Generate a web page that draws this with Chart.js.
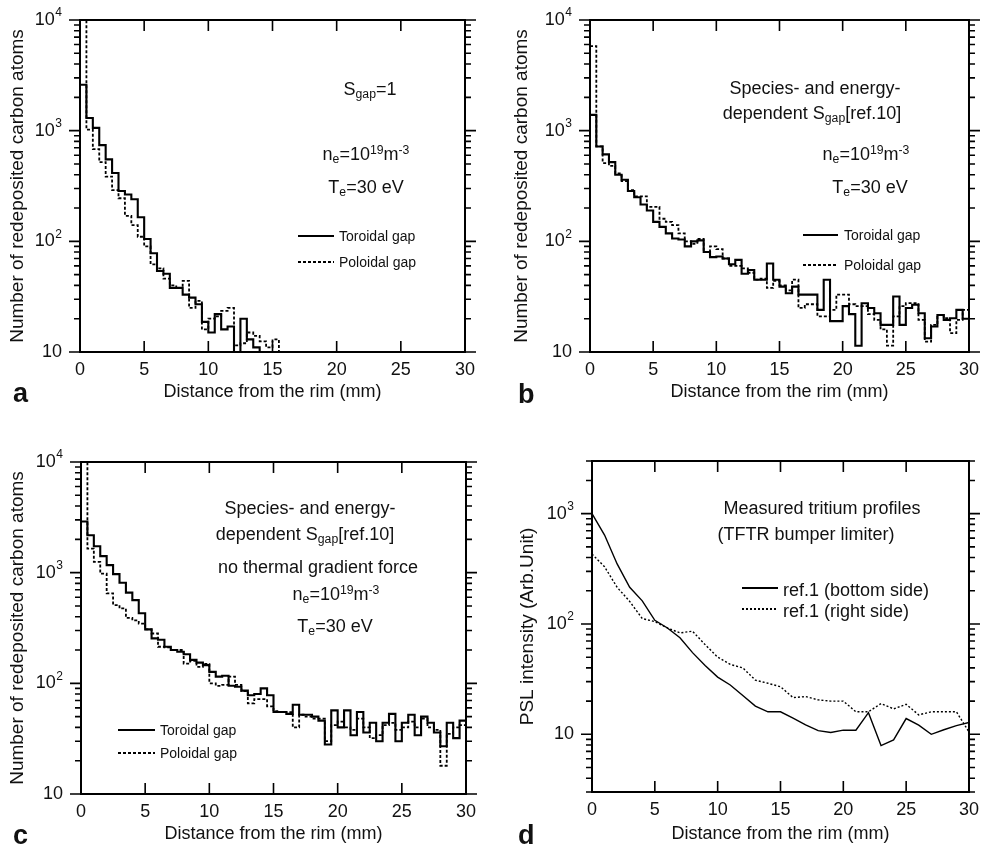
<!DOCTYPE html>
<html>
<head>
<meta charset="utf-8">
<script src="https://cdn.jsdelivr.net/npm/chart.js@4.4.0/dist/chart.umd.min.js"></script>
<style>
  html, body { margin: 0; padding: 0; background: #fff; }
  #page { position: relative; width: 986px; height: 853px; overflow: hidden;
          font-family: "Liberation Sans", Arial, Helvetica, sans-serif; color: #111; }
  canvas { position: absolute; }
  .txt { position: absolute; white-space: nowrap; }
  .sub { font-size: 0.68em; position: relative; top: 0.3em; line-height: 0; }
  .sup { font-size: 0.68em; position: relative; top: -0.45em; line-height: 0; }
  .sample { position: absolute; }
</style>
</head>
<body>
<div id="page">
  <canvas id="panelA" width="493" height="426" style="left:0;top:0"></canvas>
  <canvas id="panelB" width="493" height="426" style="left:493px;top:0"></canvas>
  <canvas id="panelC" width="493" height="427" style="left:0;top:426px"></canvas>
  <canvas id="panelD" width="493" height="427" style="left:493px;top:426px"></canvas>
</div>
<script>
// histogram bins are 0.5 mm wide, starting at the rim
const BIN_WIDTH = 0.5;
const xTickValues = [0, 5, 10, 15, 20, 25, 30];

// (a) S_gap = 1
const aToroidal = [2600, 1300, 1060, 740, 550, 415, 285, 265, 240, 165, 105, 78, 54, 51, 38, 38, 33, 31, 27, 18.7,
  15, 22, 16, 17, 8, 20, 13, 11, 8];
const aPoloidal = [20000, 1020, 680, 520, 385, 290, 245, 170, 140, 110, 90, 62, 57, 46, 40, 38, 44, 25, 29, 16,
  20, 21, 23.5, 25, 11.5, 12, 15, 14, 12.5, 11, 13, 8];

// (b) species- and energy-dependent S_gap
const bToroidal = [1390, 720, 610, 520, 400, 360, 285, 250, 215, 190, 150, 135, 118, 106, 104, 90, 100, 102, 80, 72,
  73, 70, 62, 68, 51, 55, 45, 45, 63, 45, 39, 34, 39, 33, 33, 33, 24, 45, 19, 19,
  26, 22, 11.4, 27.6, 25, 22.4, 17.6, 17.6, 31.7, 17.6, 25, 26.7, 22.4, 13.3, 17, 21.6, 19.5, 20.2, 24, 20];
const bPoloidal = [5800, 720, 510, 480, 410, 350, 290, 255, 255, 205, 205, 160, 150, 140, 118, 100, 95, 105, 80, 90,
  85, 70, 60, 60, 57, 52, 45, 46, 38, 44, 40, 36, 45, 25, 27, 27, 21, 21, 24, 33,
  33, 27, 26, 26, 22, 19.5, 16, 11.4, 21, 26, 27.6, 27.6, 19.5, 12.4, 17.6, 21.6, 20.2, 14.8, 19.5, 24];

// (c) no thermal gradient force
const cToroidal = [2900, 2180, 1730, 1410, 1170, 970, 810, 660, 565, 430, 307, 255, 248, 214, 200, 193, 183, 163, 154, 146,
  127, 115, 117, 95, 93, 86, 78, 80, 90, 78, 55, 55, 53, 64, 52, 52, 50, 46, 28, 57,
  40, 57, 34, 55, 36, 44, 30, 44, 53, 30, 44, 52, 34, 50, 44, 36, 27, 44, 32, 46];
const cPoloidal = [20000, 1650, 1250, 980, 650, 510, 475, 390, 370, 347, 307, 282, 214, 211, 200, 200, 151, 160, 141, 150,
  100, 95, 97, 115, 97, 85, 66, 72, 72, 62, 56, 55, 55, 40, 52, 50, 48, 48, 30, 42,
  45, 40, 38, 48, 40, 32, 34, 42, 44, 38, 40, 45, 40, 48, 40, 38, 18, 35, 40, 42];

// (d) measured tritium profiles
const dDistance = [0, 1, 2, 3, 4, 5, 6, 7, 8, 9, 10, 11, 12, 13, 14, 15, 16, 17, 18, 19, 20, 21, 22, 23, 24, 25, 26, 27, 28, 29, 30];
const dBottomSide = [1000, 640, 350, 215, 162, 108, 92, 75, 55, 42, 33, 28, 22.5, 18, 16, 16, 14, 12.2, 10.8, 10.4,
  10.9, 10.9, 15.7, 7.9, 8.9, 13.9, 12.1, 10, 11, 12, 12.8];
const dRightSide = [430, 330, 215, 160, 112, 105, 92, 83, 86, 65, 50, 43, 40, 31, 29, 27, 21.5, 22, 20.5, 20,
  20, 16, 16, 19, 17, 18.7, 15, 16, 16, 16, 10.5];

const FONT = '"Liberation Sans", Arial, Helvetica, sans-serif';
Chart.defaults.font.family = FONT;
Chart.defaults.color = "#111";

const toSteps = (vals) => {
  const pts = vals.map((v, i) => ({ x: i * BIN_WIDTH, y: v }));
  pts.push({ x: vals.length * BIN_WIDTH, y: vals[vals.length - 1] });
  return pts;
};

const histogram = (vals, dotted) => ({
  data: toSteps(vals),
  stepped: true,
  borderColor: "#000",
  borderWidth: dotted ? 1.8 : 2.1,
  borderDash: dotted ? [3, 2] : [],
  pointRadius: 0,
  fill: false,
});

const profile = (vals, dotted) => ({
  data: dDistance.map((x, i) => ({ x, y: vals[i] })),
  borderColor: "#000",
  borderWidth: 1.4,
  borderDash: dotted ? [2, 2] : [],
  pointRadius: 0,
  tension: 0,
  fill: false,
});

// box, inward x ticks, outward log ticks and decade labels
const frame = {
  id: "frame",
  afterDatasetsDraw(chart) {
    const { ctx, chartArea: a, scales: { x, y } } = chart;
    ctx.save();
    ctx.strokeStyle = "#000";
    ctx.lineWidth = 2;
    ctx.strokeRect(a.left, a.top, a.right - a.left, a.bottom - a.top);

    ctx.lineWidth = 1.6;
    ctx.beginPath();
    xTickValues.slice(1, -1).forEach((v) => {
      const px = x.getPixelForValue(v);
      ctx.moveTo(px, a.bottom);
      ctx.lineTo(px, a.bottom - 11);
      ctx.moveTo(px, a.top);
      ctx.lineTo(px, a.top + 11);
    });
    const labels = [];
    for (let e = Math.floor(Math.log10(y.min)); e <= Math.ceil(Math.log10(y.max)); e++) {
      for (let m = 1; m < 10; m++) {
        const v = m * Math.pow(10, e);
        if (v < y.min * 0.999 || v > y.max * 1.001) continue;
        const py = y.getPixelForValue(v);
        const len = m === 1 ? 11 : 6;
        ctx.moveTo(a.left, py);
        ctx.lineTo(a.left - len, py);
        ctx.moveTo(a.right, py);
        ctx.lineTo(a.right + len, py);
        if (m === 1) labels.push({ e, py });
      }
    }
    ctx.stroke();

    ctx.fillStyle = "#111";
    ctx.textBaseline = "middle";
    ctx.textAlign = "right";
    labels.forEach(({ e, py }) => {
      const right = a.left - 18;
      if (e === 1) {
        ctx.font = "18px " + FONT;
        ctx.fillText("10", right, py);
      } else {
        ctx.font = "12px " + FONT;
        const sw = ctx.measureText(String(e)).width;
        ctx.fillText(String(e), right, py - 7);
        ctx.font = "18px " + FONT;
        ctx.fillText("10", right - sw - 0.5, py);
      }
    });
    ctx.restore();
  },
};

function makePanel({ id, w, h, plot, yMin, yMax, yTitle, yTitlePad, xTitlePad, datasets }) {
  return new Chart(document.getElementById(id).getContext("2d"), {
    type: "line",
    data: { datasets },
    options: {
      responsive: false,
      animation: false,
      layout: { autoPadding: false, padding: { left: 0, top: plot.top, right: w - plot.right, bottom: 0 } },
      scales: {
        x: {
          type: "linear",
          min: 0,
          max: 30,
          afterFit: (s) => { s.height = h - plot.bottom; },
          grid: { display: false, drawTicks: false },
          border: { display: false },
          ticks: { stepSize: 5, padding: 7, maxRotation: 0, autoSkip: false, font: { size: 18 } },
          title: {
            display: true,
            text: "Distance from the rim (mm)",
            font: { size: 18 },
            padding: { top: 0, bottom: xTitlePad },
          },
        },
        y: {
          type: "logarithmic",
          min: yMin,
          max: yMax,
          afterFit: (s) => { s.width = plot.left; },
          grid: { display: false, drawTicks: false },
          border: { display: false },
          ticks: { display: false },
          title: { display: true, text: yTitle, font: { size: 19 }, padding: { top: yTitlePad, bottom: 0 } },
        },
      },
      plugins: { legend: { display: false }, tooltip: { enabled: false } },
    },
    plugins: [frame],
  });
}

const COUNT_TITLE = "Number of redeposited carbon atoms";

makePanel({
  id: "panelA", w: 493, h: 426,
  plot: { left: 80, right: 465, top: 20, bottom: 352 },
  yMin: 10, yMax: 10000, yTitle: COUNT_TITLE, yTitlePad: 6.6, xTitlePad: 23,
  datasets: [histogram(aToroidal, false), histogram(aPoloidal, true)],
});
makePanel({
  id: "panelB", w: 493, h: 426,
  plot: { left: 97, right: 477, top: 20, bottom: 352 },
  yMin: 10, yMax: 10000, yTitle: COUNT_TITLE, yTitlePad: 17.6, xTitlePad: 23,
  datasets: [histogram(bToroidal, false), histogram(bPoloidal, true)],
});
makePanel({
  id: "panelC", w: 493, h: 427,
  plot: { left: 81, right: 466, top: 36, bottom: 368 },
  yMin: 10, yMax: 10000, yTitle: COUNT_TITLE, yTitlePad: 6.6, xTitlePad: 8,
  datasets: [histogram(cToroidal, false), histogram(cPoloidal, true)],
});
makePanel({
  id: "panelD", w: 493, h: 427,
  plot: { left: 99, right: 483, top: 35, bottom: 366 },
  yMin: 3, yMax: 3000, yTitle: "PSL intensity (Arb.Unit)", yTitlePad: 23.6, xTitlePad: 8,
  datasets: [profile(dBottomSide, false), profile(dRightSide, true)],
});

// annotations, legends and panel letters as real text
const page = document.getElementById("page");
function text(html, x, baseline, { size = 18, center = false, bold = false } = {}) {
  const el = document.createElement("div");
  el.className = "txt";
  el.innerHTML = html;
  el.style.fontSize = size + "px";
  el.style.lineHeight = size + "px";
  el.style.left = x + "px";
  el.style.top = (baseline - size * 0.85) + "px";
  if (center) el.style.transform = "translateX(-50%)";
  if (bold) el.style.fontWeight = "bold";
  page.appendChild(el);
}
function sample(x1, x2, y, dotted, thin) {
  const el = document.createElement("div");
  el.className = "sample";
  const t = thin ? 1.4 : 2;
  el.style.left = x1 + "px";
  el.style.width = (x2 - x1) + "px";
  el.style.top = (y - t / 2) + "px";
  el.style.height = t + "px";
  el.style.background = dotted
    ? "repeating-linear-gradient(90deg,#000 0 " + (thin ? 2 : 3) + "px,transparent " + (thin ? 2 : 3) + "px " + (thin ? 4 : 5) + "px)"
    : "#000";
  page.appendChild(el);
}

const NE = 'n<span class="sub">e</span>=10<span class="sup">19</span>m<span class="sup">-3</span>';
const TE = 'T<span class="sub">e</span>=30 eV';
const SGAP = 'S<span class="sub">gap</span>';

// (a)
text(SGAP + "=1", 370, 95, { center: true });
text(NE, 366, 160, { center: true });
text(TE, 366, 193, { center: true });
sample(298, 334, 236, false);
text("Toroidal gap", 339, 241, { size: 14 });
sample(298, 334, 262, true);
text("Poloidal gap", 339, 267, { size: 14 });
text("a", 13, 403, { size: 27, bold: true });

// (b)
text("Species- and energy-", 815, 94, { center: true });
text("dependent " + SGAP + "[ref.10]", 812, 119, { center: true });
text(NE, 866, 160, { center: true });
text(TE, 870, 193, { center: true });
sample(803, 838, 235, false);
text("Toroidal gap", 844, 240, { size: 14 });
sample(803, 838, 265, true);
text("Poloidal gap", 844, 270, { size: 14 });
text("b", 518, 404, { size: 27, bold: true });

// (c)
text("Species- and energy-", 310, 514, { center: true });
text("dependent " + SGAP + "[ref.10]", 305, 540, { center: true });
text("no thermal gradient force", 318, 573, { center: true });
text(NE, 336, 600, { center: true });
text(TE, 335, 632, { center: true });
sample(118, 155, 730, false);
text("Toroidal gap", 160, 735, { size: 14 });
sample(118, 155, 753, true);
text("Poloidal gap", 160, 758, { size: 14 });
text("c", 13, 845, { size: 27, bold: true });

// (d)
text("Measured tritium profiles", 822, 514, { center: true });
text("(TFTR bumper limiter)", 806, 540, { center: true });
sample(742, 778, 588, false, true);
text("ref.1 (bottom side)", 783, 596);
sample(742, 778, 609, true, true);
text("ref.1 (right side)", 783, 617);
text("d", 518, 845, { size: 27, bold: true });
</script>
</body>
</html>
